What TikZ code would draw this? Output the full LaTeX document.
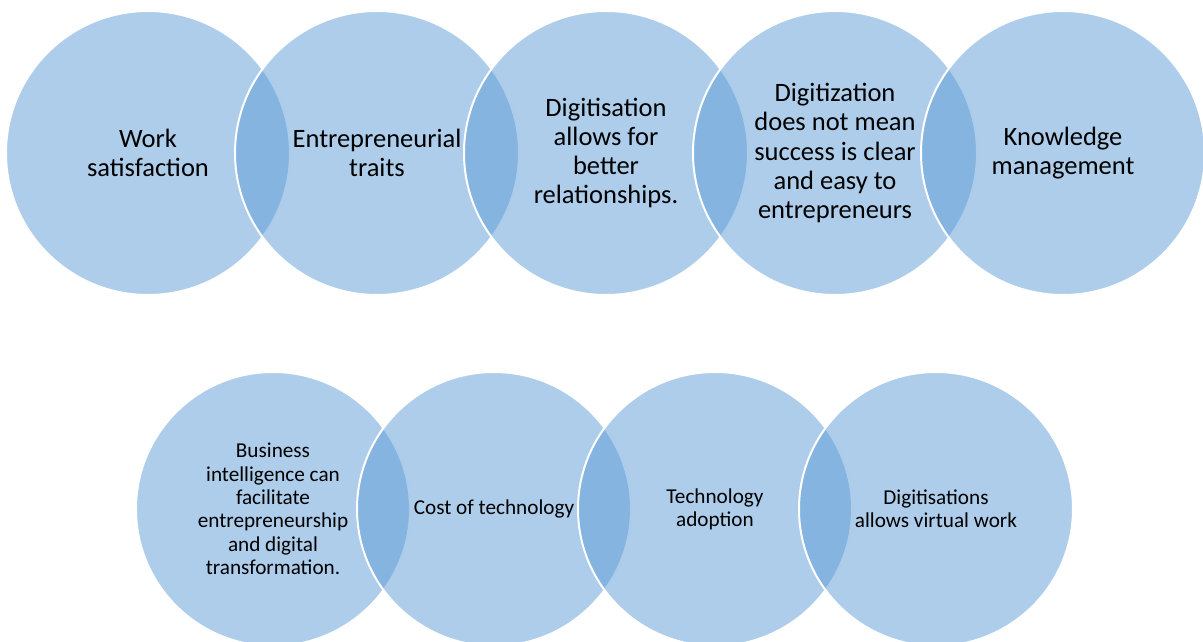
\documentclass[tikz,border=0pt]{standalone}
\usepackage{fontspec}
\setmainfont{Carlito}
\definecolor{vblue}{HTML}{5B9BD5}
\tikzset{
  circtop/.style={circle, fill=vblue, fill opacity=0.5, draw=white, draw opacity=1, line width=2pt, minimum size=284pt, inner sep=0pt},
  circbot/.style={circle, fill=vblue, fill opacity=0.5, draw=white, draw opacity=1, line width=2pt, minimum size=274pt, inner sep=0pt},
  ttop/.style={align=center, font=\fontsize{26.5}{29.3}\selectfont, text=black},
  tbot/.style={align=center, font=\fontsize{21.2}{23.3}\selectfont, text=black}
}
\begin{document}
\begin{tikzpicture}[x=1pt,y=-1pt]
\useasboundingbox (0,0) rectangle (1203,642);
% top row
\node[circtop] (a1) at (148,153) {};
\node[circtop] (a2) at (377,153) {};
\node[circtop] (a3) at (606,153) {};
\node[circtop] (a4) at (835,153) {};
\node[circtop] (a5) at (1063,153) {};
% bottom row
\node[circbot] (b1) at (273,509) {};
\node[circbot] (b2) at (494,509) {};
\node[circbot] (b3) at (715,509) {};
\node[circbot] (b4) at (936,509) {};
% texts
\node[ttop] (ta1) at (a1.center) {Work\\satisfaction};
\node[ttop] (ta2) at (a2.center) {Entrepreneurial\\traits};
\node[ttop] (ta3) at (a3.center) {Digitisation\\allows for\\better\\relationships.};
\node[ttop] (ta4) at (a4.center) {Digitization\\does not mean\\success is clear\\and easy to\\entrepreneurs};
\node[ttop] (ta5) at (a5.center) {Knowledge\\management};
\node[tbot] (tb1) at (b1.center) {Business\\intelligence can\\facilitate\\entrepreneurship\\and digital\\transformation.};
\node[tbot] (tb2) at (b2.center) {Cost of technology};
\node[tbot] (tb3) at (b3.center) {Technology\\adoption};
\node[tbot] (tb4) at (b4.center) {Digitisations\\allows virtual work};
\end{tikzpicture}
\end{document}
